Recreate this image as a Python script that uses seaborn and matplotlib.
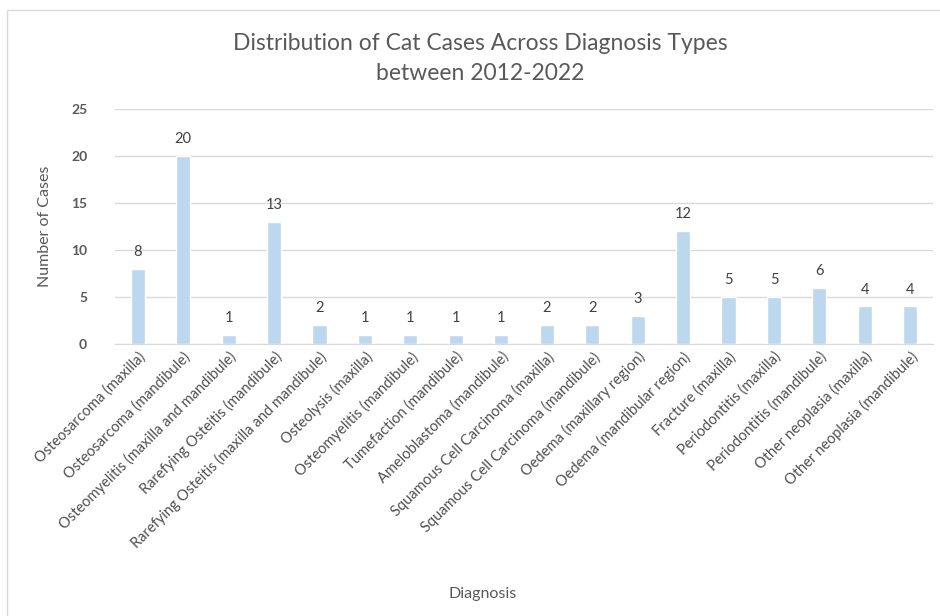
import matplotlib.pyplot as plt
import seaborn as sns
import pandas as pd
from matplotlib.patches import Rectangle

diagnoses = [
    'Osteosarcoma (maxilla)',
    'Osteosarcoma (mandibule)',
    'Osteomyelitis (maxilla and mandibule)',
    'Rarefying Osteitis (mandibule)',
    'Rarefying Osteitis (maxilla and mandibule)',
    'Osteolysis (maxilla)',
    'Osteomyelitis (mandibule)',
    'Tumefaction (mandibule)',
    'Ameloblastoma (mandibule)',
    'Squamous Cell Carcinoma (maxilla)',
    'Squamous Cell Carcinoma (mandibule)',
    'Oedema (maxillary region)',
    'Oedema (mandibular region)',
    'Fracture (maxilla)',
    'Periodontitis (maxilla)',
    'Periodontitis (mandibule)',
    'Other neoplasia (maxilla)',
    'Other neoplasia (mandibule)',
]
cases = [8, 20, 1, 13, 2, 1, 1, 1, 1, 2, 2, 3, 12, 5, 5, 6, 4, 4]
y_ticks = [0, 5, 10, 15, 20, 25]

df = pd.DataFrame({'Diagnosis': diagnoses, 'Cases': cases})

sns.set_style('white')
plt.rcParams['font.family'] = ['Lato', 'DejaVu Sans']
TXT = '#595959'
BAR = '#BDD7EE'

fig = plt.figure(figsize=(9.4, 6.16), dpi=100)
ax = fig.add_axes([115 / 940, 1 - 344 / 616, (933 - 115) / 940, (344 - 109) / 616])

# chart-area border (Excel style)
fig.patches.append(Rectangle((7 / 940, -0.1), 1.2, 1 - 10 / 616 + 0.1,
                             transform=fig.transFigure, fill=False,
                             edgecolor='#D9D9D9', lw=1))

sns.barplot(data=df, x='Diagnosis', y='Cases', color=BAR, width=0.31,
            saturation=1, ax=ax, zorder=3)

for i, v in enumerate(cases):
    ax.annotate(str(v), (i, v), xytext=(0, 7), textcoords='offset points',
                ha='center', va='bottom', fontsize=10.5, color='#404040')

ax.set_ylim(0, 25)
ax.set_xlim(-0.5, len(diagnoses) - 0.5)
ax.set_yticks(y_ticks)
ax.set_yticklabels([str(t) for t in y_ticks], fontsize=10, fontweight='bold', color=TXT)
ax.yaxis.grid(True, color='#D9D9D9', lw=1, zorder=0)
ax.tick_params(axis='y', length=0, pad=20)
ax.tick_params(axis='x', length=0, pad=4)
ax.set_xticks(range(len(diagnoses)))
ax.set_xticklabels(diagnoses, rotation=45, ha='right', rotation_mode='anchor',
                   fontsize=10.5, color='#505050')
for side in ['top', 'right', 'left']:
    ax.spines[side].set_visible(False)
ax.spines['bottom'].set_color('#D9D9D9')

ax.set_xlabel('')
ax.set_ylabel('Number of Cases', fontsize=11.5, color=TXT, labelpad=14)
fig.text(483 / 940, 1 - 594 / 616, 'Diagnosis', ha='center', va='center',
         fontsize=11.5, color=TXT)
fig.text(480 / 940, 1 - 43 / 616, 'Distribution of Cat Cases Across Diagnosis Types',
         ha='center', va='center', fontsize=16.5, color=TXT)
fig.text(480 / 940, 1 - 74 / 616, 'between 2012-2022',
         ha='center', va='center', fontsize=16.5, color=TXT)

fig.savefig('out.png', dpi=100)
